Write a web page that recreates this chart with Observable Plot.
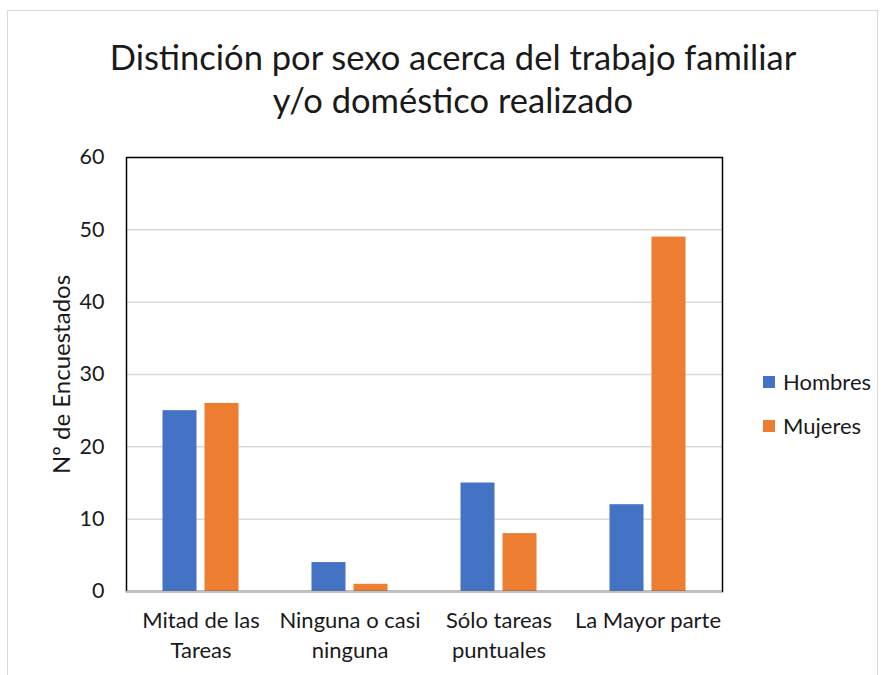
<!DOCTYPE html>
<html>
<head>
<meta charset="utf-8">
<script src="https://cdn.jsdelivr.net/npm/d3@7"></script>
<script src="https://cdn.jsdelivr.net/npm/@observablehq/plot@0.6"></script>
<style>
  html, body { margin: 0; padding: 0; background: #fff; }
  #wrap { position: relative; width: 887px; height: 675px; font-family: Lato, "Open Sans", sans-serif; color: #1a1a1a; }
  #border { position: absolute; left: 7px; top: 10px; width: 871px; height: 670px; border: 1px solid #d9d9d9; box-sizing: border-box; }
  #title { position: absolute; left: 0; top: 35px; width: 906px; text-align: center; font-size: 34.5px; line-height: 43px; }
  #chart { position: absolute; left: 0; top: 0; }
  .leg { position: absolute; left: 763px; font-size: 22px; display: flex; align-items: center; }
  .leg span.sw { display: inline-block; width: 12px; height: 12px; margin-right: 8px; }
</style>
</head>
<body>
<div id="wrap">
  <div id="border"></div>
  <div id="chart"></div>
  <div id="title">Distinción por sexo acerca del trabajo familiar<br>y/o doméstico realizado</div>
  <div id="legend"></div>
</div>
<script>
const categories = ["Mitad de las Tareas", "Ninguna o casi ninguna", "Sólo tareas puntuales", "La Mayor parte"];
const tickLabels = ["Mitad de las\nTareas", "Ninguna o casi\nninguna", "Sólo tareas\npuntuales", "La Mayor parte"];
const series = ["Hombres", "Mujeres"];
const hombres = [25, 4, 15, 12];
const mujeres = [26, 1, 8, 49];
const colors = ["#4472C4", "#ED7D31"];
const yTicks = [0, 10, 20, 30, 40, 50, 60];

const dataH = categories.map((c, i) => ({cat: c, value: hombres[i], serie: "Hombres"}));
const dataM = categories.map((c, i) => ({cat: c, value: mujeres[i], serie: "Mujeres"}));

const chart = Plot.plot({
  width: 887,
  height: 675,
  marginTop: 157,
  marginBottom: 84,
  marginLeft: 126,
  marginRight: 165,
  style: {fontFamily: "Lato, 'Open Sans', sans-serif", fontSize: "21px", color: "#1a1a1a", background: "transparent"},
  x: {domain: categories, padding: 0},
  y: {domain: [0, 60]},
  color: {domain: series, range: colors},
  marks: [
    Plot.gridY(yTicks.filter(d => d > 0 && d < 60), {stroke: "#d9d9d9", strokeOpacity: 1, strokeWidth: 1.5}),
    Plot.barY(dataH, {x: "cat", y: "value", fill: "serie", insetLeft: 36.5, insetRight: 78.5}),
    Plot.barY(dataM, {x: "cat", y: "value", fill: "serie", insetLeft: 78.5, insetRight: 36.5}),
    Plot.axisY({ticks: yTicks, tickSize: 0, tickPadding: 22, fontSize: 21.5, label: null}),
    Plot.text(["Nº de Encuestados"], {frameAnchor: "left", textAnchor: "middle", dx: -64, rotate: -90, fontSize: 24, text: d => d}),
    Plot.axisX({tickSize: 0, tickPadding: 15, fontSize: 22, lineHeight: 1.36, label: null,
      tickFormat: d => tickLabels[categories.indexOf(d)]}),
    Plot.frame({stroke: "#000", strokeWidth: 1.5}),
    Plot.ruleY([0], {stroke: "#bfbfbf", strokeWidth: 1.5})
  ]
});
document.getElementById("chart").appendChild(chart);

const legend = document.getElementById("legend");
const legTops = [368, 412];
series.forEach((s, i) => {
  const d = document.createElement("div");
  d.className = "leg";
  d.style.top = legTops[i] + "px";
  d.innerHTML = `<span class="sw" style="background:${colors[i]}"></span>${s}`;
  legend.appendChild(d);
});
</script>
</body>
</html>
